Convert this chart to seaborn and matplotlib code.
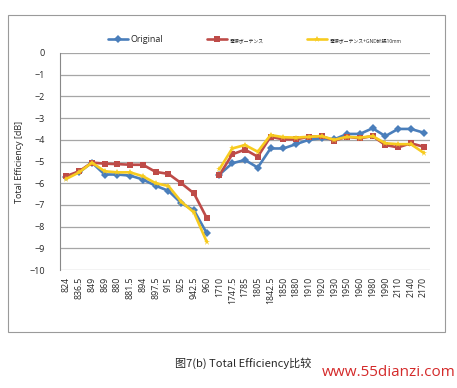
import pandas as pd
import seaborn as sns
import matplotlib.pyplot as plt
from matplotlib.patches import Rectangle

freqs = ["824", "836.5", "849", "869", "880", "881.5", "894", "897.5", "915", "925",
         "942.5", "960", "1710", "1747.5", "1785", "1805", "1842.5", "1850", "1880",
         "1910", "1920", "1930", "1950", "1960", "1980", "1990", "2110", "2140", "2170"]
band = ["low"] * 12 + ["high"] * 17

original = [-5.7, -5.5, -5.05, -5.6, -5.6, -5.65, -5.83, -6.12, -6.35, -6.92, -7.25, -8.3,
            -5.6, -5.08, -4.93, -5.28, -4.4, -4.4, -4.2, -4.0, -3.93, -3.98, -3.73, -3.73,
            -3.47, -3.83, -3.5, -3.5, -3.67]
red_series = [-5.67, -5.45, -5.05, -5.1, -5.12, -5.15, -5.15, -5.48, -5.57, -6.0, -6.47, -7.6,
              -5.62, -4.67, -4.45, -4.78, -3.86, -3.98, -3.98, -3.86, -3.83, -4.04, -3.86, -3.93,
              -3.83, -4.24, -4.35, -4.16, -4.32]
yellow_series = [-5.8, -5.5, -5.05, -5.45, -5.5, -5.5, -5.68, -6.0, -6.13, -6.85, -7.35, -8.7,
                 -5.35, -4.4, -4.24, -4.55, -3.78, -3.88, -3.9, -3.86, -3.83, -4.0, -3.86, -3.9,
                 -3.83, -4.16, -4.2, -4.2, -4.6]

names = ["Original", "電源ボーテンス", "電源ボーテンス+GND拡張10mm"]
colors = {names[0]: "#4A7EBB", names[1]: "#BE4B48", names[2]: "#F7CB1F"}
markers = {names[0]: "D", names[1]: "s", names[2]: "*"}

rows = []
for name, vals in zip(names, [original, red_series, yellow_series]):
    for i, (f, b, v) in enumerate(zip(freqs, band, vals)):
        rows.append({"idx": i, "freq": f, "band": b, "series": name, "value": v})
df = pd.DataFrame(rows)

sns.set_style("white")
plt.rcParams["font.family"] = ["Open Sans", "Noto Sans CJK JP", "DejaVu Sans"]

fig = plt.figure(figsize=(4.57, 3.88), dpi=100)
# outer chart frame
fig.patches.append(Rectangle((8 / 457, 1 - 332 / 388), 437 / 457, 317 / 388,
                             transform=fig.transFigure, fill=False,
                             edgecolor="#9a9a9a", linewidth=0.8))

ax = fig.add_axes([60 / 457, 1 - 270 / 388, 370 / 457, 217 / 388])
sns.lineplot(data=df, x="idx", y="value", hue="series", style="series",
             units="band", estimator=None, palette=colors, markers=markers,
             dashes=False, linewidth=1.9, markersize=4.5, markeredgewidth=0,
             ax=ax, legend=True)

ax.set_xlim(-0.5, len(freqs) - 0.5)
ax.set_ylim(-10, 0)
ax.set_yticks(range(-10, 1))
ax.set_xticks(range(len(freqs)))
ax.set_xticklabels(freqs, rotation=90, fontsize=6.3)
ax.tick_params(axis="y", labelsize=6.5, length=3, color="#888888", pad=8)
ax.tick_params(axis="x", length=3, color="#888888", pad=2)
ax.grid(axis="y", color="#a6a6a6", linewidth=0.9)
ax.set_axisbelow(True)
for side in ["top", "right", "bottom"]:
    ax.spines[side].set_visible(False)
ax.spines["left"].set_color("#888888")
ax.spines["left"].set_linewidth(0.8)
ax.set_xlabel("")
ax.set_ylabel("Total Efficiency [dB]", fontsize=6.5, labelpad=4)

handles, labels = ax.get_legend_handles_labels()
ax.get_legend().remove()
leg = fig.legend(handles, labels, loc="center left", ncol=3,
                 bbox_to_anchor=(100 / 457, 1 - 40 / 388), frameon=False,
                 fontsize=6.5, columnspacing=4.8, handlelength=2.2,
                 handletextpad=0.3)
for t in leg.get_texts()[1:]:
    t.set_fontsize(3.5)

fig.text(175 / 457, 1 - 363 / 388, "图7(b) Total Efficiency比较", fontsize=8,
         family=["Noto Sans CJK SC", "DejaVu Sans"], va="center")
fig.text(322 / 457, 1 - 373 / 388, "www.55dianzi.com", fontsize=11,
         color="#d42a2a", va="center")

fig.savefig("out.png", dpi=100)
